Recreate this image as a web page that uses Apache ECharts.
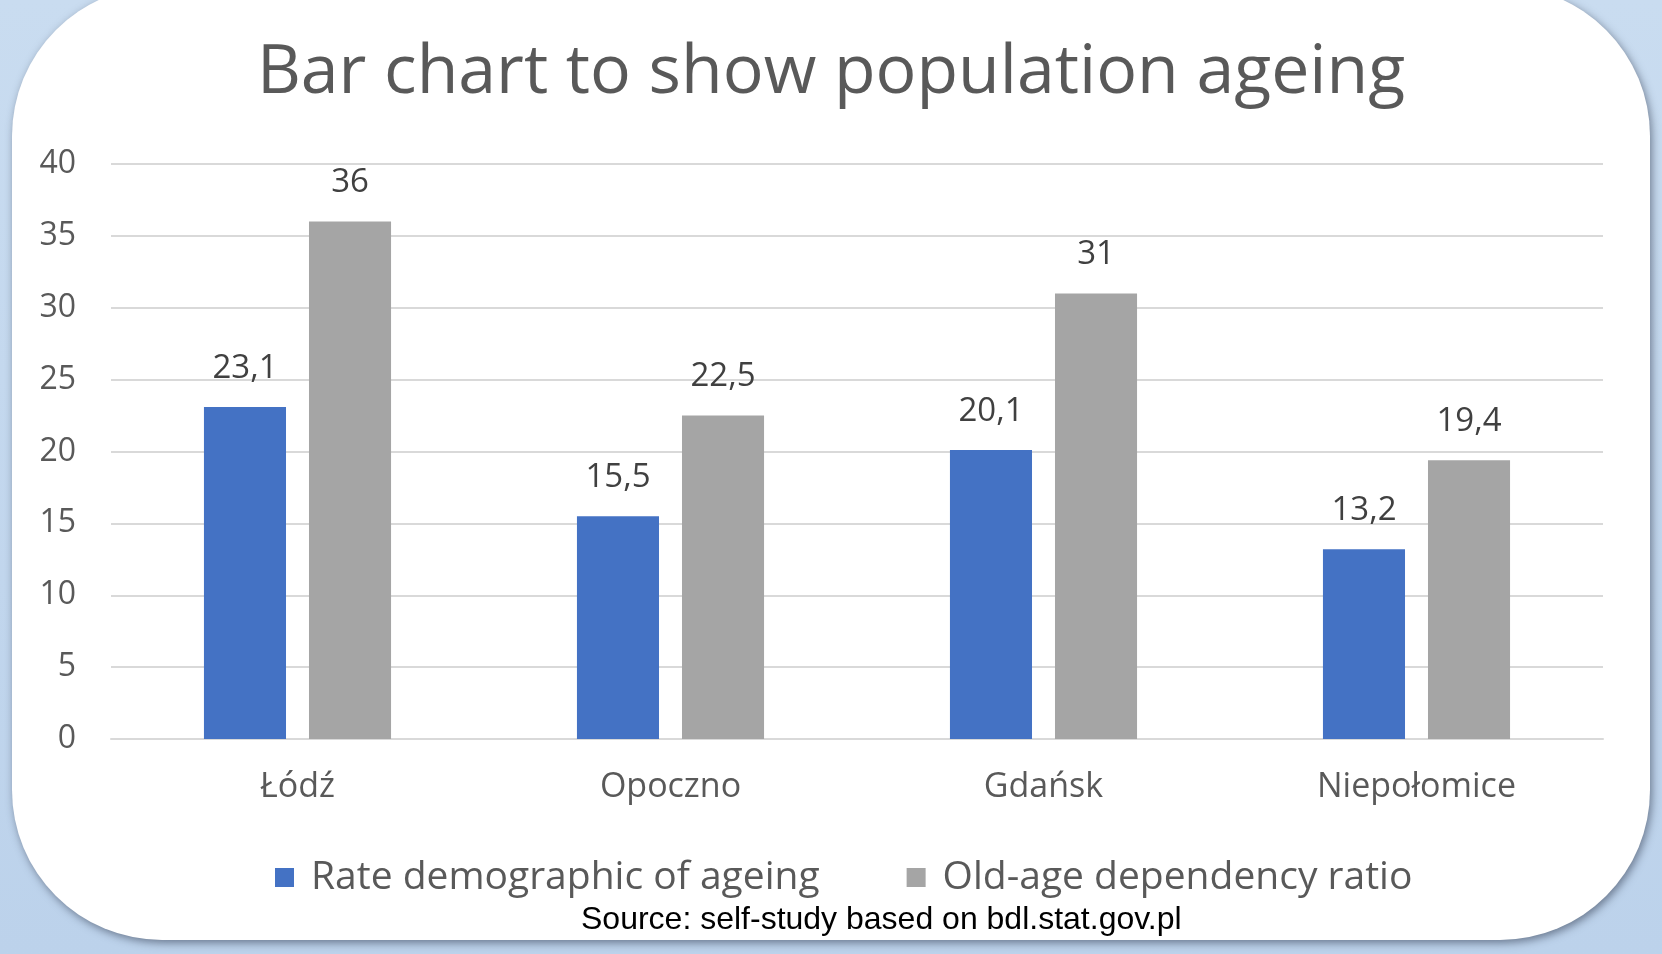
<!DOCTYPE html>
<html>
<head>
<meta charset="utf-8">
<script src="https://cdn.jsdelivr.net/npm/echarts@6/dist/echarts.min.js"></script>
<style>
html,body{margin:0;padding:0;width:1662px;height:954px;overflow:hidden;}
#c{width:1662px;height:954px;}
</style>
</head>
<body>
<div id="c"></div>
<script>
var categories = ['Łódź', 'Opoczno', 'Gdańsk', 'Niepołomice'];
var rateAgeing = [23.1, 15.5, 20.1, 13.2];
var oldAgeRatio = [36, 22.5, 31, 19.4];
var seriesNames = ['Rate demographic of ageing', 'Old-age dependency ratio'];
var yTicks = [0, 5, 10, 15, 20, 25, 30, 35, 40];

var FONT = 'Open Sans';
var chart = echarts.init(document.getElementById('c'), null, {renderer: 'canvas'});
function fmt(p){ return String(p.value).replace('.', ','); }

chart.setOption({
  backgroundColor: {
    type: 'linear', x: 0, y: 0, x2: 0, y2: 1,
    colorStops: [{offset: 0, color: '#c9dcf0'}, {offset: 1, color: '#bcd2eb'}]
  },
  graphic: [{
    type: 'rect', z: -10, silent: true,
    shape: {x: 12, y: -14, width: 1638, height: 954, r: 150},
    style: {fill: '#ffffff', shadowBlur: 8, shadowOffsetX: 2, shadowOffsetY: 3, shadowColor: 'rgba(40,50,70,0.55)'}
  }, {
    type: 'text', left: 581, top: 904, silent: true,
    style: {text: 'Source: self-study based on bdl.stat.gov.pl', font: '32px "Liberation Sans", Arial, sans-serif', fill: '#000000'}
  }],
  title: {
    text: 'Bar chart to show population ageing',
    left: 'center', top: 35,
    textStyle: {fontFamily: FONT, fontSize: 68, fontWeight: 'normal', color: '#595959'}
  },
  legend: {
    data: seriesNames,
    left: 270, top: 853,
    icon: 'rect', itemWidth: 19, itemHeight: 19, itemGap: 87,
    textStyle: {fontFamily: FONT, fontSize: 39, color: '#595959', padding: [0, 0, 0, 12]}
  },
  grid: {left: 111, right: 59, top: 164, bottom: 215, containLabel: false},
  xAxis: {
    type: 'category', data: categories,
    axisLine: {lineStyle: {color: '#d9d9d9', width: 2}},
    axisTick: {show: false},
    axisLabel: {fontFamily: FONT, fontSize: 34, color: '#595959', margin: 31}
  },
  yAxis: {
    type: 'value', min: 0, max: 40, interval: 5,
    axisLine: {show: false}, axisTick: {show: false},
    splitLine: {lineStyle: {color: '#d9d9d9', width: 2}},
    axisLabel: {fontFamily: FONT, fontSize: 32, color: '#595959', margin: 35,
      formatter: function(v){ return yTicks.indexOf(v) >= 0 ? String(v) : ''; }}
  },
  series: [{
    name: seriesNames[0], type: 'bar', data: rateAgeing,
    barWidth: '22%', barGap: '28%',
    itemStyle: {color: '#4472c4'},
    label: {show: true, position: 'top', distance: 22, formatter: fmt,
      fontFamily: FONT, fontSize: 33, color: '#404040'}
  }, {
    name: seriesNames[1], type: 'bar', data: oldAgeRatio,
    barWidth: '22%', barGap: '28%',
    itemStyle: {color: '#a5a5a5'},
    label: {show: true, position: 'top', distance: 22, formatter: fmt,
      fontFamily: FONT, fontSize: 33, color: '#404040'}
  }]
});
</script>
</body>
</html>
